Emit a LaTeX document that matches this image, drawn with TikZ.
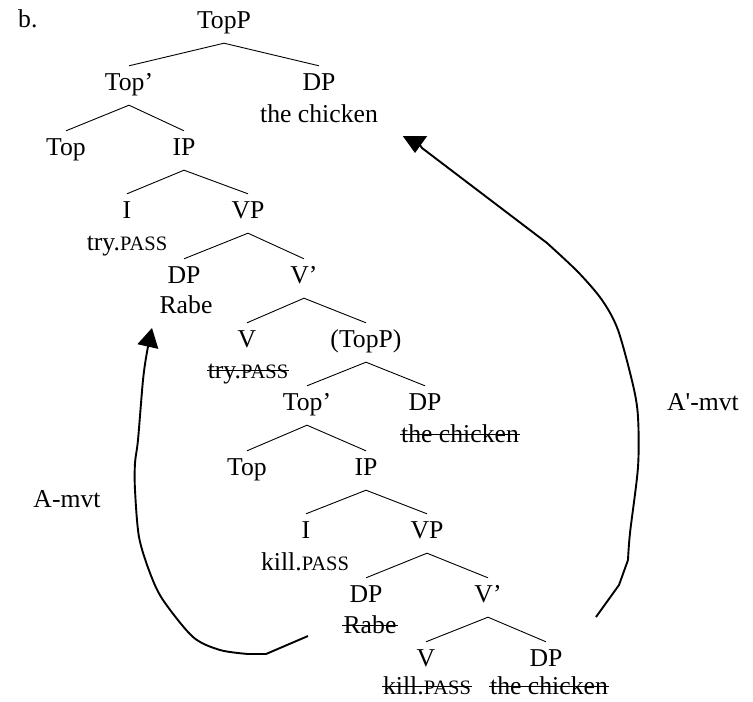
\documentclass[tikz,border=0pt]{standalone}
\usepackage{fontspec}
\setmainfont{Liberation Serif}
\newfontfamily\plainserif{Liberation Serif}
\usetikzlibrary{arrows.meta}
\newcommand{\smallcap}[1]{{\fontsize{20.5}{24}\selectfont #1}}

\begin{document}
\begin{tikzpicture}[x=1pt,y=-1pt,
  every node/.style={font={\fontsize{25.7}{30}\selectfont}, inner xsep=1pt, inner ysep=6pt, text height=18pt, text depth=9pt, anchor=base},
  word/.style={inner ysep=1pt, text depth=2pt},
  branch/.style={line width=0.9pt},
  struck/.style={line width=1.2pt},
  mvt/.style={line width=1.9pt, -{Triangle[length=19pt,width=21pt]}}]
\useasboundingbox (0,0) rectangle (753,702);

\node[anchor=base west] (ex) at (17,27) {b.};

\node (topP) at (224,28) {TopP};
\node (topbarA) at (129,90) {Top’};
\node (dpA) at (319,90) {DP};
\node[word] (chickenA) at (319,122) {the chicken};
\node (topA) at (66,155) {Top};
\node (ipA) at (184,155) {IP};
\node (iA) at (127,218) {I};
\node (vpA) at (248,218) {VP};
\node[word] (tryA) at (127,250) {try.\smallcap{PASS}};
\node (dpB) at (184,283) {DP};
\node[word] (rabeA) at (186,313) {Rabe};
\node (vbarA) at (304,283) {V’};
\node (vA) at (247,347) {V};
\node (topPB) at (366,347) {(TopP)};
\node[word] (tryB) at (248,378) {try.\smallcap{PASS}};
\node (topbarB) at (307,410) {Top’};
\node (dpC) at (425,410) {DP};
\node[word] (chickenB) at (460,442) {the chicken};
\node (topB) at (247,475) {Top};
\node (ipB) at (366,475) {IP};
\node (iB) at (306,538) {I};
\node (vpB) at (427,538) {VP};
\node[word] (killA) at (305,570) {kill.\smallcap{PASS}};
\node (dpD) at (366,602) {DP};
\node[word] (rabeB) at (370,633) {Rabe};
\node (vbarB) at (488,602) {V’};
\node (vB) at (426,666) {V};
\node (dpE) at (546,666) {DP};
\node[word] (killB) at (427,694) {kill.\smallcap{PASS}};
\node[word] (chickenC) at (549,694) {the chicken};

\node[word] (amvtLabel) at (67,507) {A-mvt};
\node[word] (abarLabel) at (703,410) {\plainserif A'-mvt};

\foreach \p/\l/\r in {topP/topbarA/dpA, topbarA/topA/ipA, ipA/iA/vpA, vpA/dpB/vbarA,
  vbarA/vA/topPB, topPB/topbarB/dpC, topbarB/topB/ipB, ipB/iB/vpB, vpB/dpD/vbarB, vbarB/vB/dpE}
  \draw[branch] (\l.north) -- (\p.south) -- (\r.north);

\foreach \w in {tryB,chickenB,rabeB,killB,chickenC}
  \draw[struck] ([yshift=7.5pt]\w.base west) -- ([yshift=7.5pt]\w.base east);

\coordinate (amvtFrom) at (308,636);
\coordinate (amvtTo) at (152,328);
\coordinate (abarFrom) at (596,617);
\coordinate (abarTo) at (415,153);

\draw[mvt] (amvtFrom) -- (266,654) -- plot[smooth] coordinates {(248,654) (220,650) (193,637) (163,600) (150,573) (139,537) (135,490) (135,463) (138,440) (143,380) (147,352) (amvtTo)};
\draw[mvt, -{Triangle[length=17pt,width=24pt]}] (abarFrom) -- (619,585) -- plot[smooth] coordinates {(628,560) (630,533) (638,467) (638,417) (633,385) (618,330) (602,300) (578,272) (547,243)} -- (422,148) -- (415,138) -- (abarTo);
\end{tikzpicture}
\end{document}
